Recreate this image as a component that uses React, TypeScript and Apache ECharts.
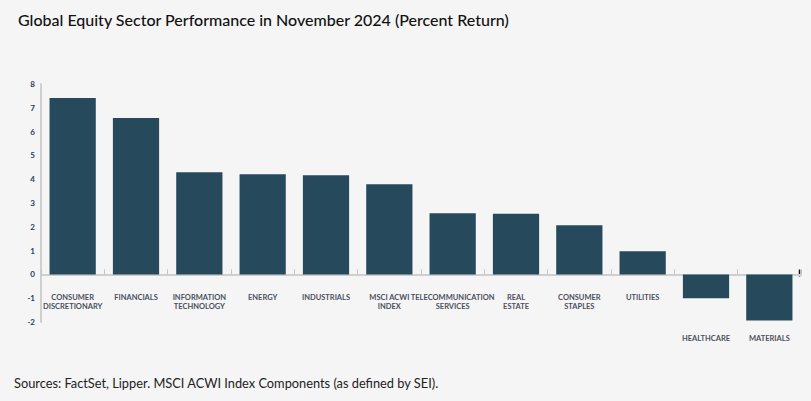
import React, { useEffect, useRef } from "react";
import * as echarts from "echarts";

const categories = [
  "CONSUMER\nDISCRETIONARY",
  "FINANCIALS",
  "INFORMATION\nTECHNOLOGY",
  "ENERGY",
  "INDUSTRIALS",
  "MSCI ACWI\nINDEX",
  "TELECOMMUNICATION\nSERVICES",
  "REAL\nESTATE",
  "CONSUMER\nSTAPLES",
  "UTILITIES",
  "HEALTHCARE",
  "MATERIALS",
];
const returns = [7.41, 6.57, 4.29, 4.21, 4.17, 3.79, 2.57, 2.55, 2.06, 0.97, -1.0, -1.94];
const yTicks = [-2, -1, 0, 1, 2, 3, 4, 5, 6, 7, 8];

const title = "Global Equity Sector Performance in November 2024 (Percent Return)";
const source = "Sources: FactSet, Lipper. MSCI ACWI Index Components (as defined by SEI).";

export default function App() {
  const ref = useRef<HTMLDivElement>(null);
  useEffect(() => {
    if (!ref.current) return;
    const chart = echarts.init(ref.current, undefined, { renderer: "svg" });
    const gridLeft = 41;
    const gridRight = 10;
    chart.setOption({
      animation: false,
      backgroundColor: "#f5f5f5",
      textStyle: { fontFamily: "Lato" },
      title: {
        text: title,
        left: 13,
        top: 6,
        textStyle: { fontFamily: "Lato", fontSize: 16, fontWeight: 500, color: "#111" },
      },
      graphic: [
        {
          type: "text",
          left: 14,
          top: 376,
          style: { text: source, font: "12.8px Lato", fill: "#222" },
        },
        {
          type: "line",
          right: gridRight - 1,
          top: 267,
          shape: { x1: 0, y1: 0, x2: 0, y2: 7 },
          style: { stroke: "#111", lineWidth: 1.5 },
        },
      ],
      grid: { left: gridLeft, right: gridRight, top: 84, bottom: 79, containLabel: false },
      xAxis: {
        type: "category",
        data: categories.map((c, i) =>
          returns[i] < 0
            ? { value: c, textStyle: { padding: [41, 0, 0, 0] } }
            : { value: c }
        ),
        axisLine: { onZero: true, lineStyle: { color: "#cfcfcf", width: 2 } },
        axisTick: { show: true, inside: true, length: 5, lineStyle: { color: "#c4c4c4", width: 1 } },
        axisLabel: {
          interval: 0,
          margin: -29,
          fontFamily: "Lato",
          fontSize: 7.5,
          fontWeight: "bold",
          color: "#4b4f5e",
          lineHeight: 9,
        },
      },
      yAxis: {
        type: "value",
        min: -2,
        max: 8,
        interval: 1,
        axisLine: { show: true, lineStyle: { color: "#cfcfcf", width: 2 } },
        axisTick: { show: false },
        splitLine: { show: false },
        axisLabel: {
          margin: 6,
          fontFamily: "Lato",
          fontSize: 8,
          fontWeight: "bold",
          color: "#1f3d60",
          formatter: (v: number) => (yTicks.includes(v) ? String(v) : ""),
        },
      },
      series: [
        {
          type: "bar",
          data: returns,
          barCategoryGap: "27%",
          itemStyle: { color: "#27495c" },
        },
      ],
    });
    return () => chart.dispose();
  }, []);
  return (
    <div
      ref={ref}
      style={{ position: "fixed", left: 0, top: 0, width: 811, height: 401 }}
    />
  );
}
